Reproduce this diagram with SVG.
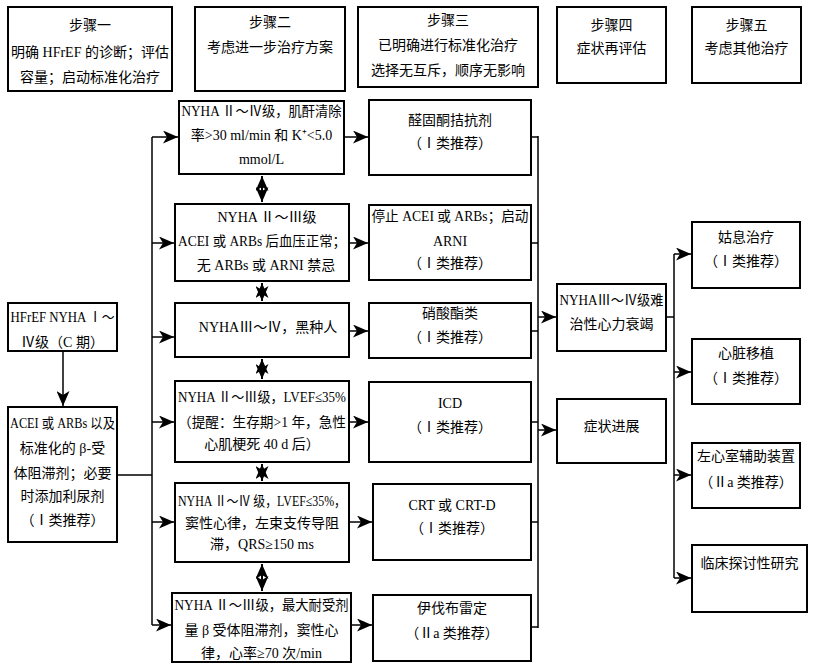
<svg xmlns="http://www.w3.org/2000/svg" width="816" height="667" viewBox="0 0 816 667">
<defs>
<marker id="ah" markerWidth="15" markerHeight="13" refX="15" refY="6.5" orient="auto-start-reverse" markerUnits="userSpaceOnUse">
<path d="M0,0 L15,6.5 L0,13 L4,6.5 z" fill="#000"/>
</marker>
<style>
.box{fill:#fff;stroke:#000;stroke-width:2}
.t{font-family:"Liberation Serif","Noto Sans CJK SC",serif;font-size:14px;text-anchor:middle;fill:#000}
.c{stroke:#000;stroke-width:1.5;fill:none}
.a{stroke:#000;stroke-width:1.5;fill:none;marker-end:url(#ah)}
.d{stroke:#000;stroke-width:2;fill:none;marker-start:url(#ah);marker-end:url(#ah)}
</style>
</defs>
<rect width="816" height="667" fill="#fff"/>

<g id="step1"><rect class="box" x="8" y="7" width="164" height="84"/>
<text class="t" x="90" y="30">步骤一</text>
<text class="t" x="90" y="57">明确 HFrEF 的诊断；评估</text>
<text class="t" x="90" y="82">容量；启动标准化治疗</text></g>
<g id="step2"><rect class="box" x="195" y="7" width="150" height="84"/>
<text class="t" x="270" y="27">步骤二</text>
<text class="t" x="270" y="52">考虑进一步治疗方案</text></g>
<g id="step3"><rect class="box" x="358" y="7" width="180" height="80"/>
<text class="t" x="448" y="25">步骤三</text>
<text class="t" x="448" y="50">已明确进行标准化治疗</text>
<text class="t" x="448" y="75">选择无互斥，顺序无影响</text></g>
<g id="step4"><rect class="box" x="557" y="7" width="109" height="76"/>
<text class="t" x="611.5" y="30">步骤四</text>
<text class="t" x="611.5" y="53">症状再评估</text></g>
<g id="step5"><rect class="box" x="692" y="7" width="109" height="76"/>
<text class="t" x="746.5" y="30">步骤五</text>
<text class="t" x="746.5" y="53">考虑其他治疗</text></g>

<g id="connectors">
<line class="a" x1="63" y1="351" x2="63" y2="406"/>
<polyline class="c" points="117,475 152,475"/>
<line class="c" x1="152" y1="137" x2="152" y2="625"/>
<line class="a" x1="152" y1="137" x2="178" y2="137"/>
<line class="a" x1="152" y1="243" x2="174" y2="243"/>
<line class="a" x1="152" y1="337" x2="174" y2="337"/>
<line class="a" x1="152" y1="422" x2="174" y2="422"/>
<line class="a" x1="152" y1="522" x2="174" y2="522"/>
<line class="a" x1="152" y1="625" x2="171" y2="625"/>
<line class="a" x1="344" y1="137" x2="368" y2="137"/>
<line class="a" x1="349" y1="243" x2="368" y2="243"/>
<line class="a" x1="349" y1="331" x2="368" y2="331"/>
<line class="a" x1="349" y1="422" x2="368" y2="422"/>
<line class="a" x1="349" y1="522" x2="372" y2="522"/>
<line class="a" x1="351" y1="625" x2="372" y2="625"/>
<line class="d" x1="262" y1="176" x2="262" y2="202"/>
<line class="d" x1="262" y1="283" x2="262" y2="301"/>
<line class="d" x1="262" y1="359" x2="262" y2="379"/>
<line class="d" x1="262" y1="464" x2="262" y2="481"/>
<line class="d" x1="262" y1="564" x2="262" y2="591"/>
<line class="c" x1="531" y1="137" x2="538" y2="137"/>
<line class="c" x1="531" y1="243" x2="538" y2="243"/>
<line class="c" x1="531" y1="331" x2="538" y2="331"/>
<line class="c" x1="531" y1="422" x2="538" y2="422"/>
<line class="c" x1="531" y1="522" x2="538" y2="522"/>
<line class="c" x1="531" y1="627" x2="538" y2="627"/>
<line class="c" x1="538" y1="136" x2="538" y2="628"/>
<line class="a" x1="538" y1="317" x2="556" y2="317"/>
<line class="a" x1="538" y1="430" x2="556" y2="430"/>
<line class="c" x1="666" y1="317" x2="674" y2="317"/>
<line class="c" x1="674" y1="254" x2="674" y2="578"/>
<line class="a" x1="674" y1="254" x2="691" y2="254"/>
<line class="a" x1="674" y1="372" x2="691" y2="372"/>
<line class="a" x1="674" y1="475" x2="691" y2="475"/>
<line class="a" x1="674" y1="578" x2="691" y2="578"/>
</g>

<g id="start"><rect class="box" x="8" y="303" width="109" height="48"/>
<text class="t" x="62.5" y="322" textLength="104" lengthAdjust="spacingAndGlyphs">HFrEF NYHA Ⅰ～</text>
<text class="t" x="62.5" y="347">Ⅳ级（C 期）</text></g>
<g id="base"><rect class="box" x="8" y="407" width="109" height="135"/>
<text class="t" x="62.5" y="428" textLength="105" lengthAdjust="spacingAndGlyphs">ACEI 或 ARBs 以及</text>
<text class="t" x="62.5" y="453">标准化的 β-受</text>
<text class="t" x="62.5" y="478">体阻滞剂；必要</text>
<text class="t" x="62.5" y="501">时添加利尿剂</text>
<text class="t" x="62.5" y="525">（Ⅰ类推荐）</text></g>

<g id="c2a"><rect class="box" x="179" y="101" width="165" height="73"/>
<text class="t" x="261.5" y="116" textLength="160" lengthAdjust="spacingAndGlyphs">NYHA Ⅱ～Ⅳ级，肌酐清除</text>
<text class="t" x="261.5" y="140">率&gt;30 ml/min 和 K⁺&lt;5.0</text>
<text class="t" x="261.5" y="164">mmol/L</text></g>
<g id="c2b"><rect class="box" x="175" y="204" width="174" height="77"/>
<text class="t" x="267" y="222">NYHA Ⅱ～Ⅲ级</text>
<text class="t" x="262" y="246" textLength="168" lengthAdjust="spacingAndGlyphs">ACEI 或 ARBs 后血压正常；</text>
<text class="t" x="266" y="270">无 ARBs 或 ARNI 禁忌</text></g>
<g id="c2c"><rect class="box" x="175" y="303" width="174" height="54"/>
<text class="t" x="268" y="332">NYHAⅢ～Ⅳ，黑种人</text></g>
<g id="c2d"><rect class="box" x="175" y="381" width="174" height="81"/>
<text class="t" x="262" y="402" textLength="168" lengthAdjust="spacingAndGlyphs">NYHA Ⅱ～Ⅲ级，LVEF≤35%</text>
<text class="t" x="262" y="427" textLength="168" lengthAdjust="spacingAndGlyphs">（提醒：生存期&gt;1 年，急性</text>
<text class="t" x="262" y="449">心肌梗死 40 d 后）</text></g>
<g id="c2e"><rect class="box" x="175" y="483" width="174" height="79"/>
<text class="t" x="262" y="506" textLength="168" lengthAdjust="spacingAndGlyphs">NYHA Ⅱ～Ⅳ 级，LVEF≤35%，</text>
<text class="t" x="262" y="528">窦性心律，左束支传导阻</text>
<text class="t" x="262" y="549">滞，QRS≥150 ms</text></g>
<g id="c2f"><rect class="box" x="172" y="593" width="179" height="69"/>
<text class="t" x="261.5" y="610" textLength="174" lengthAdjust="spacingAndGlyphs">NYHA Ⅱ～Ⅲ级，最大耐受剂</text>
<text class="t" x="261.5" y="635">量 β 受体阻滞剂，窦性心</text>
<text class="t" x="261.5" y="658">律，心率≥70 次/min</text></g>

<g id="c3a"><rect class="box" x="369" y="100" width="162" height="75"/>
<text class="t" x="450" y="125">醛固酮拮抗剂</text>
<text class="t" x="450" y="148">（Ⅰ类推荐）</text></g>
<g id="c3b"><rect class="box" x="369" y="205" width="162" height="75"/>
<text class="t" x="450" y="221" textLength="157" lengthAdjust="spacingAndGlyphs">停止 ACEI 或 ARBs；启动</text>
<text class="t" x="450" y="246">ARNI</text>
<text class="t" x="450" y="268">（Ⅰ类推荐）</text></g>
<g id="c3c"><rect class="box" x="369" y="303" width="162" height="55"/>
<text class="t" x="450" y="318">硝酸酯类</text>
<text class="t" x="450" y="342">（Ⅰ类推荐）</text></g>
<g id="c3d"><rect class="box" x="369" y="382" width="162" height="80"/>
<text class="t" x="450" y="408">ICD</text>
<text class="t" x="450" y="432">（Ⅰ类推荐）</text></g>
<g id="c3e"><rect class="box" x="373" y="484" width="158" height="76"/>
<text class="t" x="452" y="510">CRT 或 CRT-D</text>
<text class="t" x="452" y="533">（Ⅰ类推荐）</text></g>
<g id="c3f"><rect class="box" x="373" y="595" width="158" height="66"/>
<text class="t" x="452" y="613">伊伐布雷定</text>
<text class="t" x="452" y="638">（Ⅱa 类推荐）</text></g>

<g id="s4a"><rect class="box" x="557" y="284" width="109" height="67"/>
<text class="t" x="611.5" y="305" textLength="104" lengthAdjust="spacingAndGlyphs">NYHAⅢ～Ⅳ级难</text>
<text class="t" x="611.5" y="329">治性心力衰竭</text></g>
<g id="s4b"><rect class="box" x="557" y="399" width="109" height="64"/>
<text class="t" x="611.5" y="431">症状进展</text></g>

<g id="s5a"><rect class="box" x="692" y="222" width="108" height="66"/>
<text class="t" x="746" y="242">姑息治疗</text>
<text class="t" x="746" y="266">（Ⅰ类推荐）</text></g>
<g id="s5b"><rect class="box" x="692" y="339" width="108" height="65"/>
<text class="t" x="746" y="358">心脏移植</text>
<text class="t" x="746" y="383">（Ⅰ类推荐）</text></g>
<g id="s5c"><rect class="box" x="692" y="443" width="108" height="65"/>
<text class="t" x="746" y="461">左心室辅助装置</text>
<text class="t" x="746" y="487">（Ⅱa 类推荐）</text></g>
<g id="s5d"><rect class="box" x="692" y="545" width="115" height="67"/>
<text class="t" x="749.5" y="568">临床探讨性研究</text></g>
</svg>
